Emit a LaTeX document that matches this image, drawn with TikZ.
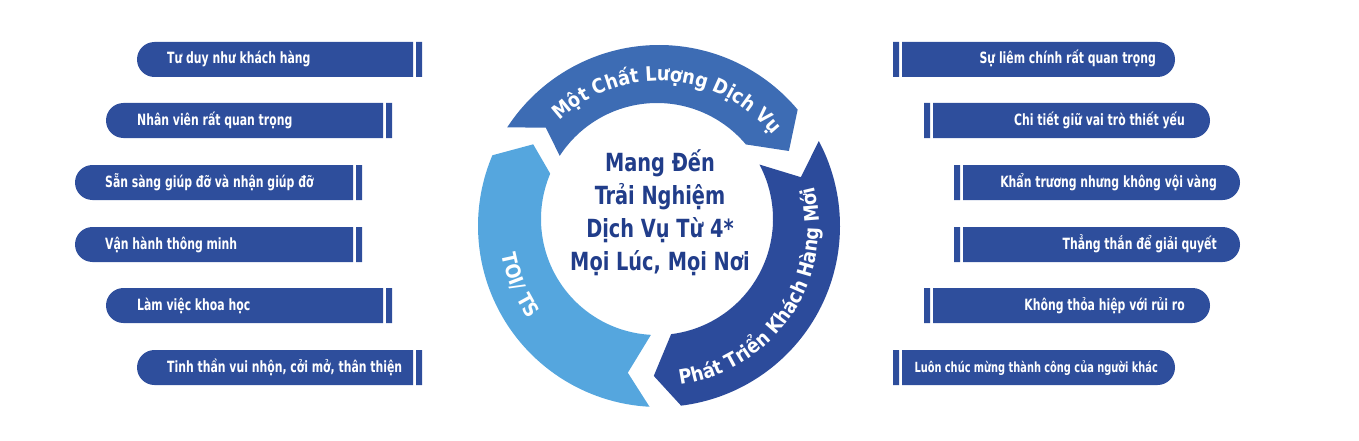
\documentclass[tikz,border=0pt]{standalone}
\usepackage{fontspec}
\usetikzlibrary{calc,decorations.text}
\newfontfamily\condfont{DejaVu Sans Condensed}[FakeStretch=0.78]
\newfontfamily\hubfont{DejaVu Sans Condensed}[FakeStretch=0.86]
\newfontfamily\arcfont{DejaVu Sans Condensed}[FakeStretch=0.98]
\definecolor{boxblue}{HTML}{2E4E9C}
\definecolor{topblue}{HTML}{3D6CB4}
\definecolor{darkblue}{HTML}{2C4B9B}
\definecolor{lightblue}{HTML}{55A6DE}
\definecolor{hubblue}{HTML}{213D8A}
\tikzstyle{bar}=[fill=boxblue]
\tikzstyle{lefttext}=[anchor=west,text=white,inner sep=0pt,text height=11pt,text depth=0pt,font=\condfont\bfseries\fontsize{15.5}{18}\selectfont]
\tikzstyle{righttext}=[lefttext,anchor=east]
\tikzstyle{hubtext}=[text=hubblue,align=center,inner sep=0pt,font=\hubfont\bfseries\fontsize{25}{33}\selectfont]
\tikzstyle{arctext}=[decorate,decoration={text along path,text align=center,text color=white,text={|\arcfont\bfseries\fontsize{20}{24}\selectfont|#1}}]

\begin{document}
\begin{tikzpicture}[x=1pt,y=1pt]
\useasboundingbox (0,0) rectangle (1359,440);
\coordinate (co) at (659,214);
\coordinate (ci) at (657,221);

% ring
\fill[topblue] ($(co)+(147:181)$) arc[start angle=147,end angle=40,radius=181] -- ($(co)+(30:150)$) -- ($(ci)+(40:116)$) arc[start angle=40,end angle=147,radius=116] -- ($(co)+(139:150)$) -- cycle;
\fill[darkblue] ($(co)+(28:181)$) arc[start angle=28,end angle=-83,radius=181] -- ($(co)+(-92:150)$) -- ($(ci)+(-83:116)$) arc[start angle=-83,end angle=28,radius=116] -- ($(co)+(19:150)$) -- cycle;
\fill[lightblue] ($(co)+(267:181)$) arc[start angle=267,end angle=157,radius=181] -- ($(co)+(147:150)$) -- ($(ci)+(157:116)$) arc[start angle=157,end angle=267,radius=116] -- ($(co)+(258:150)$) -- cycle;
\path[arctext={Một Chất Lượng Dịch Vụ}] ($(co)+(150:145)$) arc[start angle=150,end angle=22,radius=145];
\path[arctext={Phát Triển Khách Hàng Mới}] ($(co)+(-100:160)$) arc[start angle=-100,end angle=32,radius=160];
\path[arctext={TOI/ TS}] ($(co)+(170:160)$) arc[start angle=170,end angle=236,radius=160];
\node[hubtext] (hub) at (660,227.5) {Mang Đến\\Trải Nghiệm\\Dịch Vụ Từ 4*\\Mọi Lúc, Mọi Nơi};

% left column
\fill[bar] (413,363) -- (154.5,363) arc[start angle=-90,end angle=-270,radius=17.5] -- (413,398) -- cycle (416,363) rectangle (422,398);
\fill[bar] (383,302) -- (123.5,302) arc[start angle=-90,end angle=-270,radius=17.5] -- (383,337) -- cycle (386,302) rectangle (392,337);
\fill[bar] (353,240) -- (92.5,240) arc[start angle=-90,end angle=-270,radius=17.5] -- (353,275) -- cycle (356,240) rectangle (362,275);
\fill[bar] (353,178) -- (92.5,178) arc[start angle=-90,end angle=-270,radius=17.5] -- (353,213) -- cycle (356,178) rectangle (362,213);
\fill[bar] (383,117) -- (123.5,117) arc[start angle=-90,end angle=-270,radius=17.5] -- (383,152) -- cycle (386,117) rectangle (392,152);
\fill[bar] (413,55) -- (154.5,55) arc[start angle=-90,end angle=-270,radius=17.5] -- (413,90) -- cycle (416,55) rectangle (422,90);
\node[lefttext] (l1) at (167,381.5) {Tư duy như khách hàng};
\node[lefttext] (l2) at (137,320.5) {Nhân viên rất quan trọng};
\node[lefttext] (l3) at (105,258.5) {Sẵn sàng giúp đỡ và nhận giúp đỡ};
\node[lefttext] (l4) at (105,196.5) {Vận hành thông minh};
\node[lefttext] (l5) at (137,135.5) {Làm việc khoa học};
\node[lefttext] (l6) at (167,73.5) {Tinh thần vui nhộn, cởi mở, thân thiện};

% right column
\fill[bar] (902,363) -- (1157.5,363) arc[start angle=-90,end angle=90,radius=17.5] -- (902,398) -- cycle (893,363) rectangle (899,398);
\fill[bar] (933,302) -- (1192.5,302) arc[start angle=-90,end angle=90,radius=17.5] -- (933,337) -- cycle (924,302) rectangle (930,337);
\fill[bar] (963,240) -- (1222.5,240) arc[start angle=-90,end angle=90,radius=17.5] -- (963,275) -- cycle (954,240) rectangle (960,275);
\fill[bar] (963,178) -- (1222.5,178) arc[start angle=-90,end angle=90,radius=17.5] -- (963,213) -- cycle (954,178) rectangle (960,213);
\fill[bar] (933,117) -- (1192.5,117) arc[start angle=-90,end angle=90,radius=17.5] -- (933,152) -- cycle (924,117) rectangle (930,152);
\fill[bar] (902,55) -- (1157.5,55) arc[start angle=-90,end angle=90,radius=17.5] -- (902,90) -- cycle (893,55) rectangle (899,90);
\node[righttext] (r1) at (1156,381.5) {Sự liêm chính rất quan trọng};
\node[righttext] (r2) at (1185,320.5) {Chi tiết giữ vai trò thiết yếu};
\node[righttext] (r3) at (1217,258.5) {Khẩn trương nhưng không vội vàng};
\node[righttext] (r4) at (1217,196.5) {Thẳng thắn để giải quyết};
\node[righttext] (r5) at (1185,135.5) {Không thỏa hiệp với rủi ro};
\node[righttext,font=\condfont\bfseries\fontsize{14}{17}\selectfont] (r6) at (1158,73.5) {Luôn chúc mừng thành công của người khác};
\end{tikzpicture}
\end{document}
